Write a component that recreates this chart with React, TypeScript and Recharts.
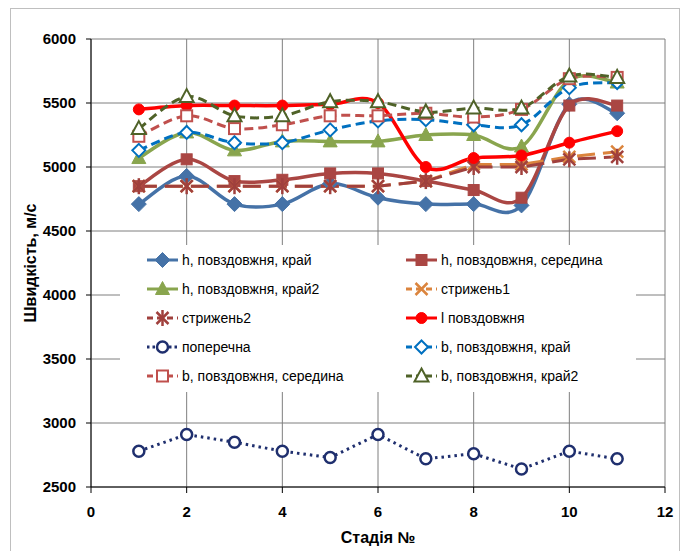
import React from 'react';
import { LineChart, Line, XAxis, YAxis, CartesianGrid, Legend, Label } from 'recharts';

const stages = [1, 2, 3, 4, 5, 6, 7, 8, 9, 10, 11];

const hEdge = [4710, 4930, 4710, 4710, 4870, 4760, 4710, 4710, 4700, 5490, 5420];
const hMiddle = [4850, 5060, 4890, 4900, 4950, 4950, 4890, 4820, 4760, 5480, 5480];
const hEdge2 = [5070, 5270, 5130, 5200, 5200, 5200, 5250, 5250, 5160, 5680, 5660];
const rod1 = [4850, 4850, 4850, 4850, 4850, 4850, 4890, 5020, 5020, 5080, 5120];
const rod2 = [4850, 4850, 4850, 4850, 4850, 4850, 4890, 5000, 5000, 5060, 5080];
const lLong = [5450, 5480, 5480, 5480, 5490, 5500, 5000, 5070, 5090, 5190, 5280];
const transverse = [2780, 2910, 2850, 2780, 2730, 2910, 2720, 2760, 2640, 2780, 2720];
const bEdge = [5130, 5270, 5190, 5190, 5290, 5360, 5370, 5330, 5330, 5620, 5660];
const bMiddle = [5240, 5400, 5300, 5330, 5400, 5400, 5420, 5390, 5450, 5690, 5700];
const bEdge2 = [5300, 5550, 5400, 5400, 5510, 5510, 5430, 5460, 5460, 5710, 5700];

const xTicks = [0, 2, 4, 6, 8, 10, 12];
const yTicks = [2500, 3000, 3500, 4000, 4500, 5000, 5500, 6000];

type Shape = 'diamond' | 'square' | 'triangle' | 'x' | 'star' | 'circle';

interface SeriesDef {
  key: string;
  name: string;
  color: string;
  shape: Shape;
  hollow?: boolean;
  dash?: string;
  smooth: boolean;
  values: number[];
}

const series: SeriesDef[] = [
  { key: 's0', name: 'h, повздовжня, край', color: '#4572A7', shape: 'diamond', smooth: true, values: hEdge },
  { key: 's1', name: 'h, повздовжня, середина', color: '#AA4643', shape: 'square', smooth: true, values: hMiddle },
  { key: 's2', name: 'h, повздовжня, край2', color: '#89A54E', shape: 'triangle', smooth: true, values: hEdge2 },
  { key: 's3', name: 'стрижень1', color: '#DB843D', shape: 'x', dash: '18 8', smooth: false, values: rod1 },
  { key: 's4', name: 'стрижень2', color: '#A0403D', shape: 'star', dash: '18 8', smooth: false, values: rod2 },
  { key: 's5', name: 'l повздовжня', color: '#FF0000', shape: 'circle', smooth: true, values: lLong },
  { key: 's6', name: 'поперечна', color: '#1F2F6E', shape: 'circle', hollow: true, dash: '2.5 4', smooth: false, values: transverse },
  { key: 's7', name: 'b, повздовжня, край', color: '#0070C0', shape: 'diamond', hollow: true, dash: '9 5', smooth: true, values: bEdge },
  { key: 's8', name: 'b, повздовжня, середина', color: '#C0504D', shape: 'square', hollow: true, dash: '9 5', smooth: true, values: bMiddle },
  { key: 's9', name: 'b, повздовжня, край2', color: '#4F6228', shape: 'triangle', hollow: true, dash: '9 5', smooth: true, values: bEdge2 },
];

const data = stages.map((stage, i) => {
  const row: Record<string, number> = { stage };
  series.forEach((s) => {
    row[s.key] = s.values[i];
  });
  return row;
});

// Excel-like smoothed line (Catmull-Rom through the points)
const excelSmooth = (context: any) => {
  let pts: number[][] = [];
  return {
    areaStart() {},
    areaEnd() {},
    lineStart() {
      pts = [];
    },
    point(x: number, y: number) {
      pts.push([+x, +y]);
    },
    lineEnd() {
      const n = pts.length;
      if (!n) return;
      context.moveTo(pts[0][0], pts[0][1]);
      for (let i = 0; i < n - 1; i++) {
        const p0 = pts[Math.max(i - 1, 0)];
        const p1 = pts[i];
        const p2 = pts[i + 1];
        const p3 = pts[Math.min(i + 2, n - 1)];
        context.bezierCurveTo(
          p1[0] + (p2[0] - p0[0]) / 6,
          p1[1] + (p2[1] - p0[1]) / 6,
          p2[0] - (p3[0] - p1[0]) / 6,
          p2[1] - (p3[1] - p1[1]) / 6,
          p2[0],
          p2[1]
        );
      }
    },
  };
};

const Marker = ({ cx, cy, s }: { cx: number; cy: number; s: SeriesDef }) => {
  const fill = s.hollow ? '#fff' : s.color;
  const sw = s.hollow ? 2 : 1;
  switch (s.shape) {
    case 'diamond': {
      const r = s.hollow ? 6.5 : 7.5;
      return (
        <polygon
          points={`${cx},${cy - r} ${cx + r},${cy} ${cx},${cy + r} ${cx - r},${cy}`}
          fill={fill}
          stroke={s.color}
          strokeWidth={sw}
        />
      );
    }
    case 'square':
      return <rect x={cx - 5.5} y={cy - 5.5} width={11} height={11} fill={fill} stroke={s.color} strokeWidth={sw} />;
    case 'triangle':
      return (
        <polygon
          points={`${cx},${cy - 7.5} ${cx + 7},${cy + 5.5} ${cx - 7},${cy + 5.5}`}
          fill={fill}
          stroke={s.color}
          strokeWidth={sw}
        />
      );
    case 'x':
      return (
        <g stroke={s.color} strokeWidth={2.5}>
          <line x1={cx - 6} y1={cy - 6} x2={cx + 6} y2={cy + 6} />
          <line x1={cx - 6} y1={cy + 6} x2={cx + 6} y2={cy - 6} />
        </g>
      );
    case 'star':
      return (
        <g stroke={s.color} strokeWidth={2.5}>
          <line x1={cx - 6} y1={cy - 6} x2={cx + 6} y2={cy + 6} />
          <line x1={cx - 6} y1={cy + 6} x2={cx + 6} y2={cy - 6} />
          <line x1={cx} y1={cy - 8} x2={cx} y2={cy + 8} />
        </g>
      );
    case 'circle':
    default:
      return s.hollow ? (
        <circle cx={cx} cy={cy} r={5.5} fill="#fff" stroke={s.color} strokeWidth={2.5} />
      ) : (
        <circle cx={cx} cy={cy} r={5.5} fill={s.color} stroke={s.color} />
      );
  }
};

const renderLegend = () => (
  <div style={{ position: 'relative', width: 516, height: 147, background: '#fff' }}>
    {series.map((s, i) => {
      const col = i % 2;
      const row = Math.floor(i / 2);
      return (
        <div
          key={s.key}
          style={{
            position: 'absolute',
            left: col === 0 ? 26 : 285,
            top: 15 + row * 29 - 10,
            height: 20,
            display: 'flex',
            alignItems: 'center',
            fontFamily: '"Liberation Sans", Arial, sans-serif',
            fontSize: 14,
            color: '#000',
            whiteSpace: 'nowrap',
          }}
        >
          <svg width={33} height={20} style={{ marginRight: 3 }}>
            <line
              x1={1}
              y1={10}
              x2={32}
              y2={10}
              stroke={s.color}
              strokeWidth={3}
              strokeDasharray={s.dash ? (s.dash === '2.5 4' ? '2.5 3' : '6 4') : undefined}
            />
            <Marker cx={16.5} cy={10} s={s} />
          </svg>
          {s.name}
        </div>
      );
    })}
  </div>
);

const YTitle = (props: any) => {
  const vb = props.viewBox || {};
  const cy = (vb.y || 0) + (vb.height || 0) / 2;
  const cx = 30;
  return (
    <text
      x={cx}
      y={cy}
      transform={`rotate(-90, ${cx}, ${cy})`}
      textAnchor="middle"
      dominantBaseline="central"
      fontFamily='"Liberation Sans", Arial, sans-serif'
      fontWeight="bold"
      fontSize={16}
      fill="#000"
    >
      Швидкість, м/с
    </text>
  );
};

const tickStyle = {
  fontFamily: '"Liberation Sans", Arial, sans-serif',
  fontWeight: 'bold' as const,
  fontSize: 15,
  fill: '#000',
};

export default function App() {
  return (
    <div style={{ position: 'absolute', left: 0, top: 0, width: 686, height: 551, background: '#fff', overflow: 'hidden' }}>
      <div
        style={{
          position: 'absolute',
          left: 10,
          top: 8,
          width: 670,
          height: 560,
          border: '1px solid #BFBFBF',
          boxSizing: 'border-box',
        }}
      />
      <LineChart width={686} height={551} data={data} margin={{ top: 39, right: 21, bottom: 0, left: 0 }}>
        <CartesianGrid stroke="#7F7F7F" strokeWidth={1} />
        <XAxis
          dataKey="stage"
          type="number"
          domain={[0, 12]}
          ticks={xTicks}
          height={64}
          tick={tickStyle}
          tickSize={6}
          tickMargin={13}
          axisLine={{ stroke: '#000' }}
          tickLine={{ stroke: '#000' }}
        >
          <Label
            value="Стадія №"
            position="insideBottom"
            offset={8}
            style={{ fontFamily: '"Liberation Sans", Arial, sans-serif', fontWeight: 'bold', fontSize: 16, fill: '#000' }}
          />
        </XAxis>
        <YAxis
          type="number"
          domain={[2500, 6000]}
          ticks={yTicks}
          width={91}
          tick={tickStyle}
          tickSize={5}
          tickMargin={10}
          axisLine={{ stroke: '#000' }}
          tickLine={{ stroke: '#000' }}
        >
          <Label content={<YTitle />} />
        </YAxis>
        <Legend
          layout="horizontal"
          verticalAlign="middle"
          align="center"
          content={renderLegend}
          wrapperStyle={{ left: 120, top: 245, width: 516, height: 147 }}
        />
        {series.map((s) => (
          <Line
            key={s.key}
            dataKey={s.key}
            name={s.name}
            type={s.smooth ? (excelSmooth as any) : 'linear'}
            stroke={s.color}
            strokeWidth={s.hollow || s.dash ? 3 : 3.5}
            strokeDasharray={s.dash}
            dot={(p: any) => <Marker key={`${s.key}-${p.index}`} cx={p.cx} cy={p.cy} s={s} />}
            activeDot={false}
            isAnimationActive={false}
          />
        ))}
      </LineChart>
    </div>
  );
}
